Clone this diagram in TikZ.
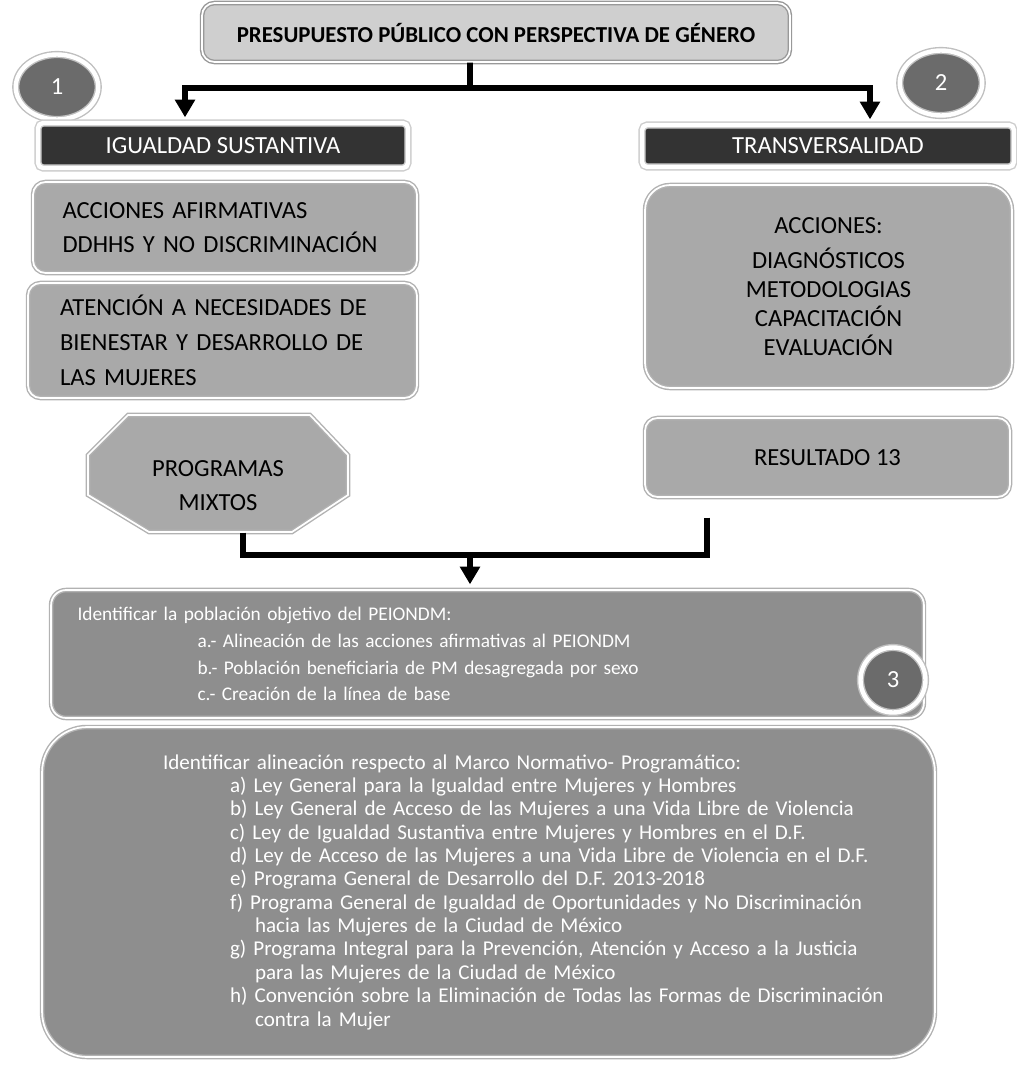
\documentclass[tikz,border=0pt]{standalone}
\usepackage{fontspec}
\setmainfont{Carlito}
\usetikzlibrary{arrows.meta,shapes.geometric}

\definecolor{titlegray}{HTML}{CFCFCF}
\definecolor{boxgray}{HTML}{A9A9A9}
\definecolor{bargray}{HTML}{333333}
\definecolor{deepgray}{HTML}{8E8E8E}
\definecolor{circgray}{HTML}{6B6B6B}

\begin{document}
\begin{tikzpicture}[thick, x=0.02cm, y=-0.02cm, >={Triangle[width=11pt,length=10pt]}]

    \tikzset{block/.style={%
      draw=gray!60,%
      double=white,%
      double distance=1pt,%
      fill=boxgray,%
      rectangle,%
      rounded corners=0.25cm,%
      font=\fontsize{14}{19.8}\selectfont}%
    };

    \tikzset{titleblock/.style={block, fill=titlegray, draw=gray!80, font=\bfseries\fontsize{13}{16}\selectfont}};
    \tikzset{headblock/.style={block, fill=bargray, text=white, draw=gray!40, double distance=2.5pt, rounded corners=0.1cm}};
    \tikzset{darkblock/.style={block, fill=deepgray, text=white, rounded corners=0.3cm}};
    \tikzset{octline/.style={draw=gray!60, double=white, double distance=1pt, fill=boxgray}};
    \tikzset{numcircle/.style={ellipse, draw=gray!50, double=white, double distance=2.5pt, fill=circgray, text=white, minimum width=1.65cm, minimum height=1.3cm, font=\fontsize{14}{16}\selectfont}};
    \tikzset{connector/.style={line width=3.4pt, shorten >=0.1cm}};

    \useasboundingbox (0, 0) rectangle (1017, 1072);

    %%%%%%%%%%%%%%%
    %   header    %
    %%%%%%%%%%%%%%%
    \path (496, 32.5) node [titleblock, minimum width=11.76cm, minimum height=1.18cm] (title) {PRESUPUESTO PÚBLICO CON PERSPECTIVA DE GÉNERO};
    \path (57, 87) node [numcircle] (n1) {1};
    \path (941, 83) node [numcircle] (n2) {2};

    %%%%%%%%%%%%%%%
    %  left side  %
    %%%%%%%%%%%%%%%
    \path (223, 145.5) node [headblock, minimum width=7.4cm, minimum height=0.9cm] (igual) {IGUALDAD SUSTANTIVA};
    \path (225, 227.5) node [block, minimum width=7.68cm, minimum height=1.82cm, text width=6.5cm, align=left] (afirm) {ACCIONES AFIRMATIVAS\\DDHHS Y NO DISCRIMINACIÓN};
    \path (222.5, 340.5) node [block, minimum width=7.78cm, minimum height=2.3cm, text width=6.5cm, align=left] (atencion) {ATENCIÓN A NECESIDADES DE\\BIENESTAR Y DESARROLLO DE\\LAS MUJERES};
    \path [octline] (128, 415) -- (310, 415) -- (348, 455) -- (348, 495) -- (292, 532)
      -- (149, 532) -- (88, 495) -- (88, 455) -- cycle;
    \path (218, 485.5) node [font=\fontsize{14}{19.8}\selectfont, align=center, minimum width=5.2cm, minimum height=1.86cm] (mixtos) {PROGRAMAS\\MIXTOS};

    %%%%%%%%%%%%%%%
    %  right side %
    %%%%%%%%%%%%%%%
    \path (828, 146) node [headblock, minimum width=7.44cm, minimum height=0.84cm] (trans) {TRANSVERSALIDAD};
    \path (828.5, 286.5) node [block, minimum width=7.34cm, minimum height=4.06cm, rounded corners=0.5cm, align=center, font=\fontsize{14}{16.5}\selectfont] (diag) {ACCIONES:\\[3pt]DIAGNÓSTICOS\\METODOLOGIAS\\CAPACITACIÓN\\EVALUACIÓN};
    \path (827.5, 457.5) node [block, minimum width=7.3cm, minimum height=1.58cm] (result) {RESULTADO 13};

    %%%%%%%%%%%%%%%
    %   bottom    %
    %%%%%%%%%%%%%%%
    \path (487.5, 654) node [darkblock, minimum width=17.46cm, minimum height=2.56cm, text width=16.4cm, align=left, font=\fontsize{11}{15.3}\selectfont] (ident) {Identificar la población objetivo del PEIONDM:\\
      \hspace*{2.4cm}a.- Alineación de las acciones afirmativas al PEIONDM\\
      \hspace*{2.4cm}b.- Población beneficiaria de PM desagregada por sexo\\
      \hspace*{2.4cm}c.- Creación de la línea de base};
    \path (893, 680) node [numcircle, minimum width=1.3cm, minimum height=1.3cm] (n3) {3};
    \path (488.5, 892) node [darkblock, minimum width=17.86cm, minimum height=6.6cm, rounded corners=0.9cm, text width=16.5cm, align=left, font=\fontsize{12}{13.3}\selectfont] (marco) {\hspace*{1.74cm}Identificar alineación respecto al Marco Normativo- Programático:\\
      \hspace*{3.08cm}a) Ley General para la Igualdad entre Mujeres y Hombres\\
      \hspace*{3.08cm}b) Ley General de Acceso de las Mujeres a una Vida Libre de Violencia\\
      \hspace*{3.08cm}c) Ley de Igualdad Sustantiva entre Mujeres y Hombres en el D.F.\\
      \hspace*{3.08cm}d) Ley de Acceso de las Mujeres a una Vida Libre de Violencia en el D.F.\\
      \hspace*{3.08cm}e) Programa General de Desarrollo del D.F. 2013-2018\\
      \hspace*{3.08cm}f) Programa General de Igualdad de Oportunidades y No Discriminación\\
      \hspace*{3.58cm}hacia las Mujeres de la Ciudad de México\\
      \hspace*{3.08cm}g) Programa Integral para la Prevención, Atención y Acceso a la Justicia\\
      \hspace*{3.58cm}para las Mujeres de la Ciudad de México\\
      \hspace*{3.08cm}h) Convención sobre la Eliminación de Todas las Formas de Discriminación\\
      \hspace*{3.58cm}contra la Mujer\\[4pt]};

    %%%%%%%%%%%%%%%
    % connectors  %
    %%%%%%%%%%%%%%%
    \coordinate (split) at (470, 88);
    \coordinate (join) at (470, 555);

    \draw [connector, shorten >=0pt] ([xshift=-0.52cm]title.south) -- (split);
    \draw [connector, ->] (split) -| ([xshift=-0.76cm]igual.north);
    \draw [connector, ->] (split) -| ([xshift=0.84cm]trans.north);
    \draw [connector, shorten >=0pt] ([xshift=0.5cm]mixtos.south) |- (join);
    \draw [connector, shorten >=0pt, shorten <=0.4cm] ([xshift=-2.41cm]result.south) |- (join);
    \draw [connector, ->] (join) -- (join |- ident.north);

  \end{tikzpicture}
\end{document}
